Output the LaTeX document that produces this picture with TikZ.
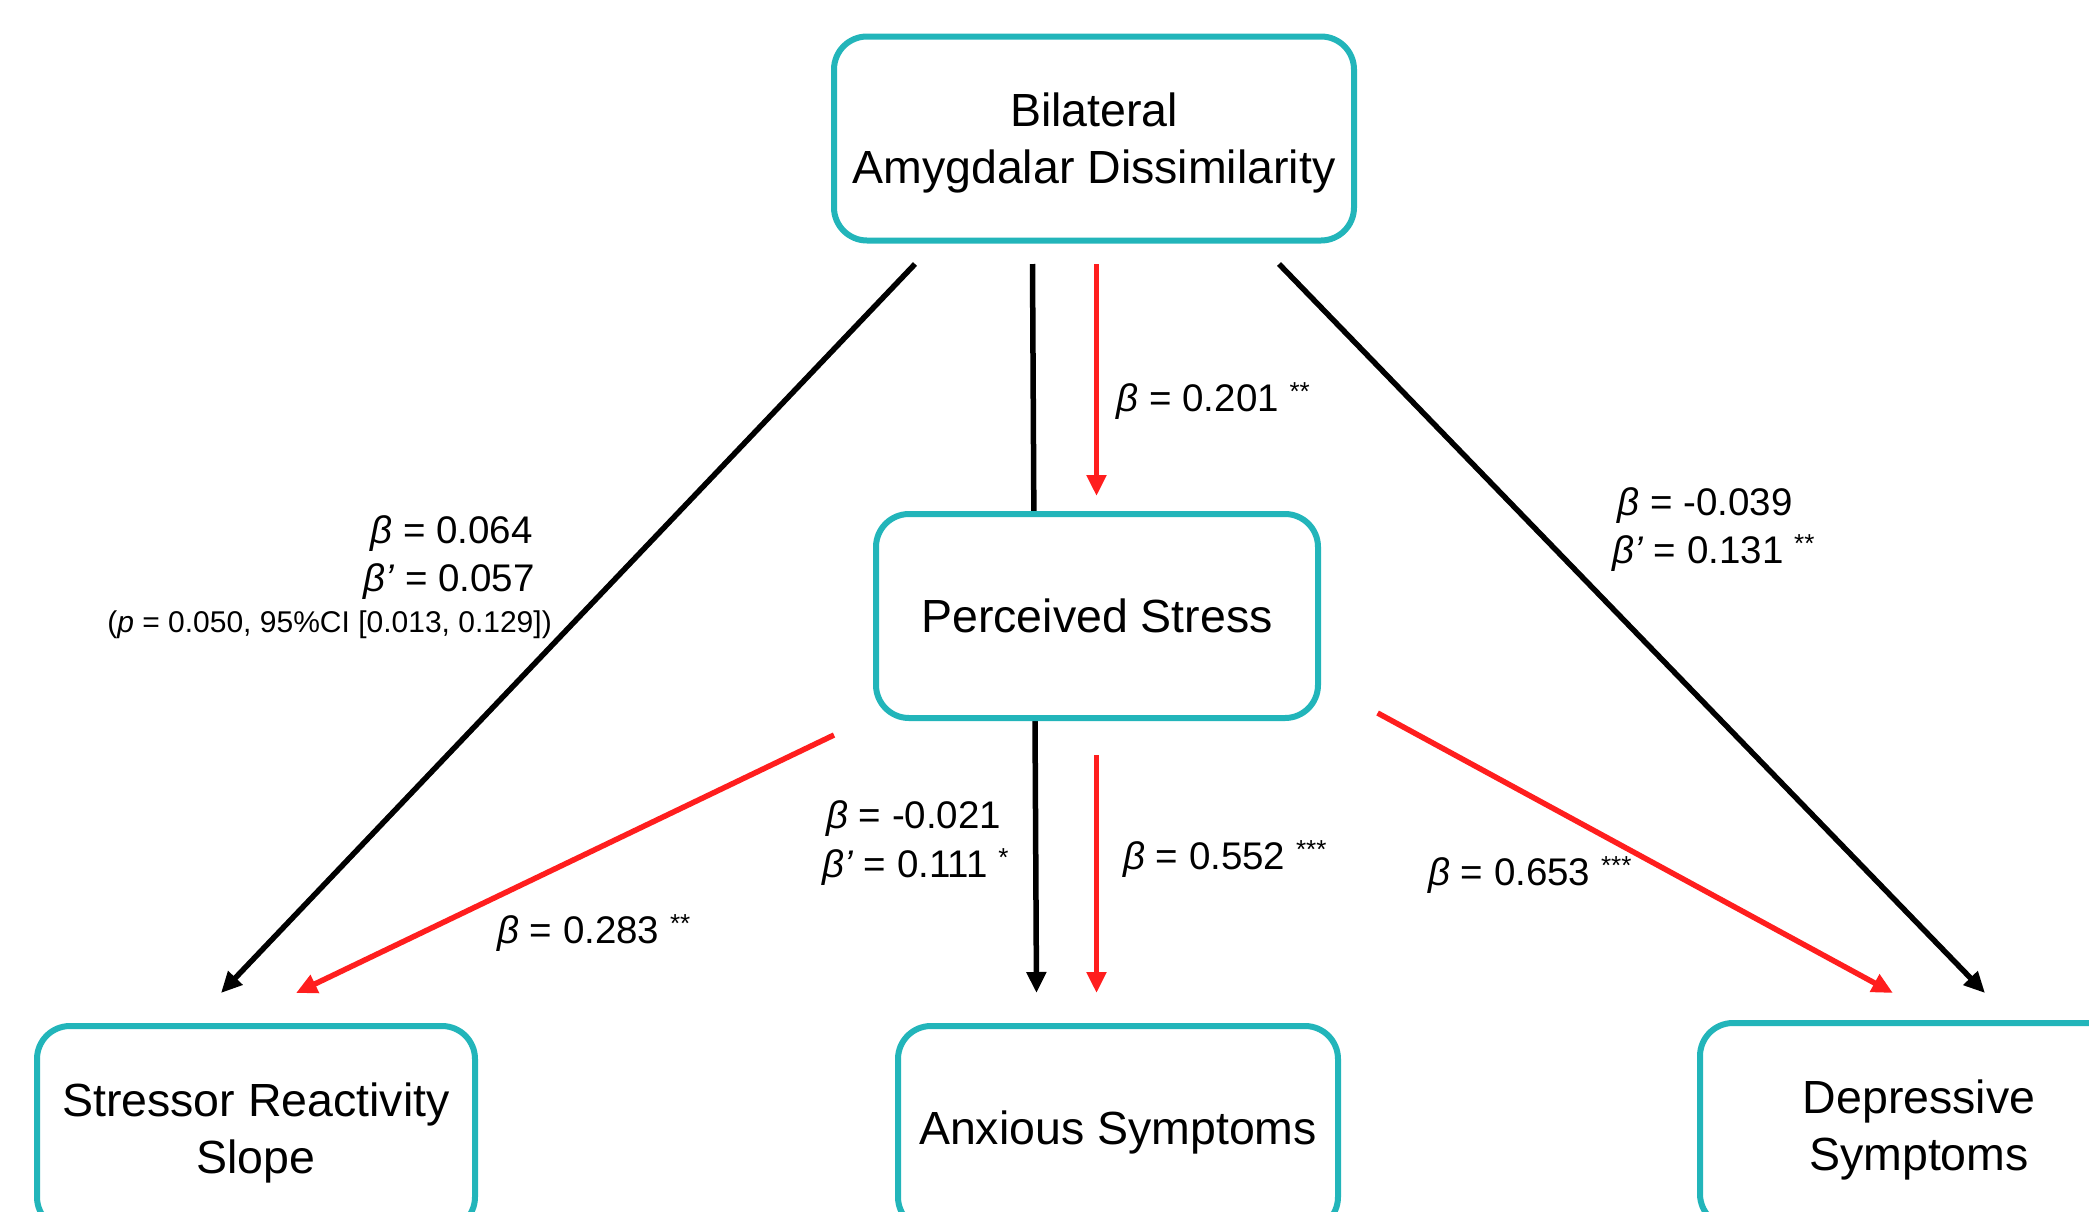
\documentclass[tikz,border=0pt]{standalone}
\usepackage{fontspec}
\setmainfont{Liberation Sans}
\usetikzlibrary{arrows.meta,backgrounds}
\definecolor{boxteal}{RGB}{34,181,186}
\definecolor{arrred}{RGB}{255,30,30}
\newcommand{\sigstar}[1]{\raisebox{11pt}{\fontsize{26}{26}\selectfont #1}}
\tikzset{
  var/.style={draw=boxteal, line width=6pt, rounded corners=33pt, fill=white,
    align=center, font=\fontsize{46.5}{57}\selectfont, inner sep=0pt, text depth=0pt,
    minimum width=440pt, minimum height=204pt},
  blkarr/.style={draw=black, line width=5.5pt, -{Triangle[length=21pt,width=19pt]}},
  redarr/.style={draw=arrred, line width=5.5pt, -{Triangle[length=21pt,width=19pt]}},
  lab/.style={font=\fontsize{38.5}{48}\selectfont, inner sep=0pt, text depth=0pt},
  smalllab/.style={font=\fontsize{30}{36}\selectfont, inner sep=0pt, text depth=0pt},
}
\begin{document}
\begin{tikzpicture}[x=1pt,y=-1pt]
\useasboundingbox (0,0) rectangle (2089,1211);
\clip (0,0) rectangle (2089,1211);

% connector end points
\coordinate (amyL) at (915,264);
\coordinate (amyM) at (1032.5,264);
\coordinate (amyR) at (1096.5,264);
\coordinate (amyRR) at (1279,264);
\coordinate (psTop) at (1096.5,496);
\coordinate (psL) at (834,735);
\coordinate (psM) at (1096.5,755);
\coordinate (psR) at (1377.6,713);
\coordinate (srsA) at (221,993);
\coordinate (srsB) at (296,993);
\coordinate (anxA) at (1036.5,993);
\coordinate (anxB) at (1096.5,993);
\coordinate (depA) at (1893,993);
\coordinate (depB) at (1985,993);

% direct path drawn behind the Perceived Stress box
\draw[blkarr] (amyM) -- (anxA);

% nodes
\node[var, minimum width=520pt] (amy) at (1094,138.5) {Bilateral\\Amygdalar Dissimilarity};
\node[var, minimum width=442pt] (ps) at (1097,616) {Perceived Stress};
\node[var, minimum width=438pt] (srs) at (256,1128) {Stressor Reactivity\\Slope};
\node[var, minimum width=440pt] (anx) at (1118,1128) {Anxious Symptoms};
\node[var, minimum width=438pt] (dep) at (1919,1125) {Depressive\\Symptoms};

% connectors
\draw[blkarr] (amyL) -- (srsA);
\draw[blkarr] (amyRR) -- (depB);
\draw[redarr] (amyR) -- (psTop);
\draw[redarr] (psL) -- (srsB);
\draw[redarr] (psM) -- (anxB);
\draw[redarr] (psR) -- (depA);

% labels
\node[lab, anchor=east] (l1) at (533,530) {\textit{β} = 0.064};
\node[lab, anchor=east] (l2) at (535,578) {\textit{β’} = 0.057};
\node[smalllab, anchor=east] (l3) at (552,622) {(\textit{p} = 0.050, 95\%CI [0.013, 0.129])};
\node[lab, anchor=west] (l4) at (1116.5,397) {\textit{β} = 0.201 \sigstar{**}};
\node[lab, anchor=west] (l5) at (1617.5,502) {\textit{β} = -0.039};
\node[lab, anchor=west] (l6) at (1612,549) {\textit{β’} = 0.131 \sigstar{**}};
\node[lab, anchor=west] (l7) at (826,815) {\textit{β} = -0.021};
\node[lab, anchor=west] (l8) at (822,863) {\textit{β’} = 0.111 \sigstar{*}};
\node[lab, anchor=west] (l9) at (1123,855) {\textit{β} = 0.552 \sigstar{***}};
\node[lab, anchor=west] (l10) at (1428,871) {\textit{β} = 0.653 \sigstar{***}};
\node[lab, anchor=west] (l11) at (497,929) {\textit{β} = 0.283 \sigstar{**}};
\end{tikzpicture}
\end{document}
